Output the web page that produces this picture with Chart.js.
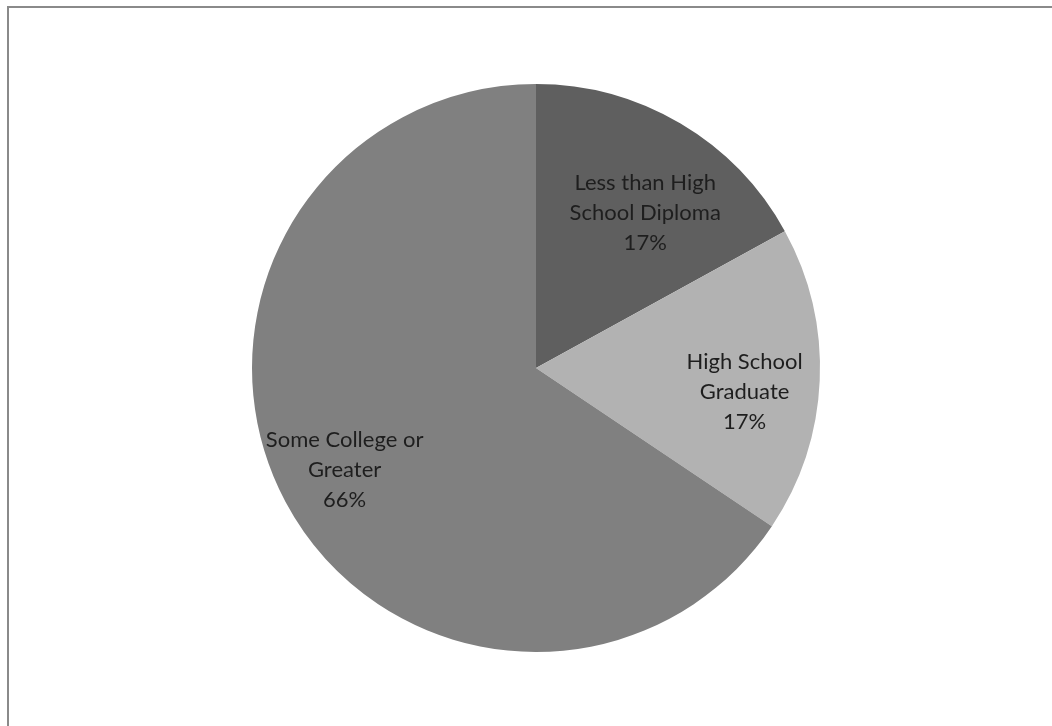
<!DOCTYPE html>
<html>
<head>
<meta charset="utf-8">
<script src="https://cdn.jsdelivr.net/npm/chart.js@4"></script>
<style>
  html, body { margin: 0; padding: 0; background: #fff; overflow: hidden; }
  #wrap { position: relative; width: 1052px; height: 726px; }
  #frame { position: absolute; left: 7px; top: 6px; right: -10px; bottom: -10px;
           border-top: 2px solid #8a8a8a; border-left: 2px solid #8a8a8a; }
  #grafico { position: absolute; left: 0; top: 0; }
</style>
</head>
<body>
<div id="wrap">
  <div id="frame"></div>
  <canvas id="grafico" width="1052" height="726"></canvas>
</div>
<script>
// categorias y valores (porcentaje)
const categorias = [
    ["Less than High", "School Diploma"],
    ["High School", "Graduate"],
    ["Some College or", "Greater"]
];
const valores = [17.0, 17.4, 65.6];
const colores = ["#5f5f5f", "#b2b2b2", "#808080"];

// etiquetas dentro de cada porcion
const etiquetasPie = {
    id: "etiquetasPie",
    afterDatasetsDraw(chart, args, opts) {
        const ctx = chart.ctx;
        const meta = chart.getDatasetMeta(0);
        const total = valores.reduce((a, b) => a + b, 0);
        ctx.save();
        ctx.font = opts.font;
        ctx.fillStyle = opts.color;
        ctx.textAlign = "center";
        ctx.textBaseline = "middle";
        meta.data.forEach((arc, i) => {
            const p = arc.getProps(["x", "y", "startAngle", "endAngle", "outerRadius"], true);
            const mid = (p.startAngle + p.endAngle) / 2;
            const r = p.outerRadius * opts.factor;
            const off = opts.nudge[i] || [0, 0];
            const cx = p.x + Math.cos(mid) * r + off[0];
            const cy = p.y + Math.sin(mid) * r + off[1];
            const lineas = categorias[i].concat([Math.round(valores[i] / total * 100) + "%"]);
            const y0 = cy - (lineas.length - 1) / 2 * opts.lineHeight;
            lineas.forEach((t, k) => ctx.fillText(t, cx, y0 + k * opts.lineHeight));
        });
        ctx.restore();
    }
};

const getGrafic = document.getElementById("grafico").getContext("2d");
const myChart = new Chart(getGrafic, {
    type: "pie",
    data: {
        labels: categorias.map(c => c.join(" ")),
        datasets: [{
            data: valores,
            backgroundColor: colores,
            borderWidth: 0
        }]
    },
    options: {
        responsive: false,
        animation: false,
        layout: { padding: { left: 20, right: 0, top: 84, bottom: 74 } },
        plugins: {
            legend: { display: false },
            tooltip: { enabled: false },
            etiquetasPie: {
                font: "22px Lato",
                color: "#1e1e1e",
                lineHeight: 30,
                factor: 0.7,
                nudge: [[8, 16], [10, 15], [-16, 8]]
            }
        }
    },
    plugins: [etiquetasPie]
});
</script>
</body>
</html>
